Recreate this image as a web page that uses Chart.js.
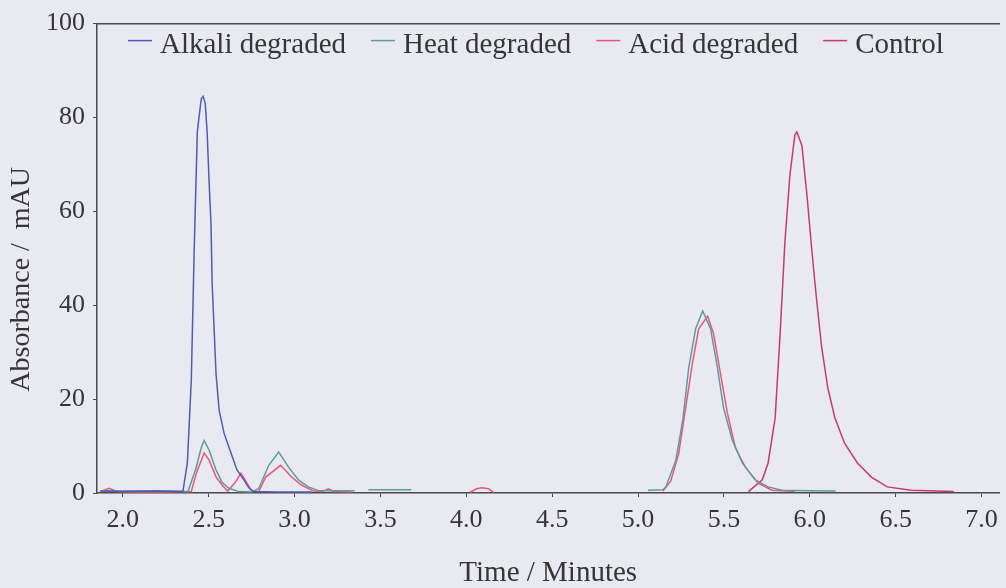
<!DOCTYPE html>
<html>
<head>
<meta charset="utf-8">
<title>Chromatogram</title>
<script src="https://cdn.jsdelivr.net/npm/chart.js@4.4.1/dist/chart.umd.min.js"></script>
<style>
    html, body { margin: 0; padding: 0; background: #e9e9f1; }
    #wrap { width: 1006px; height: 588px; }
</style>
</head>
<body>
<div id="wrap"><canvas id="chromatogramChart" width="1006" height="588"></canvas></div>
<script>
// retention time (min) / absorbance (mAU), null = gap in the trace
const alkaliTime  = [1.87, 2.0, 2.2, 2.35, 2.376, 2.399, 2.416, 2.434, 2.457, 2.468, 2.480, 2.491, 2.503, 2.514, 2.520, 2.543, 2.561, 2.590, 2.630, 2.665, 2.705, 2.734, 2.763, 2.9, 3.1];
const alkaliValue = [0.4, 0.3, 0.4, 0.3, 6.4, 24, 52, 77, 84, 84.5, 83, 77, 66, 57, 45, 25.4, 17.6, 12.7, 8.5, 4.9, 2.8, 1.1, 0.3, 0.2, 0.2];

const heatTime  = [1.87, 2.0, 2.2, 2.38, 2.428, 2.457, 2.474, 2.503, 2.543, 2.578, 2.618, 2.676, 2.75, 2.792, 2.850, 2.908, 2.965, 3.023, 3.081, 3.139, 3.35, 3.39, 3.43, 3.68, 4.5,
                   5.058, 5.145, 5.162, 5.220, 5.260, 5.295, 5.335, 5.376, 5.422, 5.462, 5.497, 5.549, 5.607, 5.682, 5.757, 5.838, 6.0, 6.15];
const heatValue = [0.5, 0.4, 0.5, 0.3, 5.5, 9.7, 11.2, 9.1, 4.9, 2.3, 1.0, 0.3, 0.2, 1.0, 5.9, 8.7, 5.5, 2.8, 1.3, 0.5, 0.5, null, 0.7, 0.7, null,
                   0.6, 0.7, 1.3, 7, 15.5, 26.7, 35, 38.8, 35, 26.7, 18.2, 11.2, 6.4, 2.8, 1.3, 0.6, 0.5, 0.4];

const acidTime  = [1.87, 1.92, 1.97, 2.05, 2.2, 2.399, 2.428, 2.474, 2.503, 2.543, 2.578, 2.61, 2.65, 2.688, 2.72, 2.751, 2.792, 2.832, 2.919, 2.983, 3.040, 3.110, 3.16, 3.197, 3.23, 3.33, 3.6,
                   4.02, 4.06, 4.09, 4.13, 4.16, 4.6,
                   5.145, 5.19, 5.237, 5.277, 5.318, 5.353, 5.405, 5.439, 5.480, 5.520, 5.566, 5.624, 5.699, 5.780, 5.913];
const acidValue = [0.3, 1.0, 0.3, 0.2, 0.2, 0.3, 4.2, 8.5, 7, 3.4, 1.7, 0.4, 2.0, 4.2, 2.3, 0.4, 0.3, 3.4, 5.9, 3.4, 1.7, 0.4, 0.3, 0.9, 0.3, 0.2, null,
                   0.1, 0.9, 1.1, 0.9, 0.1, null,
                   0.4, 2.5, 8.5, 18.2, 28, 35, 37.7, 34, 25.4, 17, 9.7, 5.5, 2.1, 0.6, 0.3];

const controlTime  = [5.642, 5.723, 5.757, 5.798, 5.827, 5.855, 5.884, 5.913, 5.925, 5.954, 5.983, 6.012, 6.040, 6.069, 6.104, 6.145, 6.202, 6.277, 6.358, 6.451, 6.590, 6.838];
const controlValue = [0.3, 2.8, 6.4, 16, 34, 53.6, 67.8, 76.3, 76.9, 74, 63.5, 51.5, 40.9, 31, 22.5, 16.1, 10.6, 6.4, 3.4, 1.3, 0.6, 0.3];

const seriesLabels = ['Alkali degraded', 'Heat degraded', 'Acid degraded', 'Control'];
const xTickValues = [2.0, 2.5, 3.0, 3.5, 4.0, 4.5, 5.0, 5.5, 6.0, 6.5, 7.0];
const yTickValues = [0, 20, 40, 60, 80, 100];

const textColor = '#363636';
const axisColor = '#4a4a4a';
const serif = "'Liberation Serif', 'Times New Roman', serif";

function toPoints(times, values) {
    return times.map((t, i) => ({x: t, y: values[i]}));
}

function makeDataset(label, times, values, color) {
    return {
        label: label,
        data: toPoints(times, values),
        borderColor: color,
        backgroundColor: color,
        borderWidth: 1.5,
        pointRadius: 0,
        tension: 0,
        fill: false,
        spanGaps: false
    };
}

// legend drawn inside the plot, top left, like the original
const insideLegend = {
    id: 'insideLegend',
    afterDraw(chart) {
        const ctx = chart.ctx;
        const area = chart.chartArea;
        let x = area.left + 31;
        const lineY = area.top + 17;
        const textY = area.top + 29;
        ctx.save();
        ctx.font = "29px " + serif;
        ctx.textBaseline = 'alphabetic';
        chart.data.datasets.forEach(ds => {
            ctx.strokeStyle = ds.borderColor;
            ctx.lineWidth = 1.5;
            ctx.beginPath();
            ctx.moveTo(x, lineY);
            ctx.lineTo(x + 24, lineY);
            ctx.stroke();
            x += 32;
            ctx.fillStyle = textColor;
            ctx.fillText(ds.label, x, textY);
            x += ctx.measureText(ds.label).width + 25;
        });
        ctx.restore();
    }
};

const background = {
    id: 'background',
    beforeDraw(chart) {
        const ctx = chart.ctx;
        ctx.save();
        ctx.fillStyle = '#e9e9f1';
        ctx.fillRect(0, 0, chart.width, chart.height);
        ctx.restore();
    }
};

let ctx = document.getElementById('chromatogramChart');

new Chart(ctx, {
    type: 'line',
    data: {
        datasets: [
            makeDataset(seriesLabels[0], alkaliTime, alkaliValue, '#5558b8'),
            makeDataset(seriesLabels[1], heatTime, heatValue, '#5f9a9e'),
            makeDataset(seriesLabels[2], acidTime, acidValue, '#e6587c'),
            makeDataset(seriesLabels[3], controlTime, controlValue, '#c93a6c')
        ]
    },
    options: {
        responsive: false,
        animation: false,
        layout: {
            padding: {top: 21, right: 0, bottom: 0, left: 0}
        },
        scales: {
            x: {
                type: 'linear',
                position: 'bottom',
                min: 1.85,
                max: 7.104,
                afterBuildTicks: axis => {
                    axis.ticks = xTickValues.map(v => ({value: v}));
                },
                afterFit: scale => {
                    scale.height = 95;
                },
                ticks: {
                    autoSkip: false,
                    maxRotation: 0,
                    padding: 8,
                    color: textColor,
                    font: {family: serif, size: 26},
                    callback: v => Number(v).toFixed(1)
                },
                grid: {
                    drawOnChartArea: false,
                    drawTicks: true,
                    tickLength: 4,
                    color: axisColor
                },
                border: {color: axisColor, width: 1.5},
                title: {
                    display: true,
                    text: 'Time / Minutes',
                    color: textColor,
                    font: {family: serif, size: 29, lineHeight: 1},
                    padding: {top: 0, bottom: 0}
                }
            },
            xTop: {
                type: 'linear',
                position: 'top',
                min: 1.85,
                max: 7.104,
                ticks: {display: false},
                grid: {display: false},
                border: {display: true, color: axisColor, width: 1.5},
                afterFit: scale => {
                    scale.height = 0;
                }
            },
            y: {
                min: 0,
                max: 100,
                afterBuildTicks: axis => {
                    axis.ticks = yTickValues.map(v => ({value: v}));
                },
                afterFit: scale => {
                    scale.width = 97;
                },
                ticks: {
                    padding: 8,
                    color: textColor,
                    font: {family: serif, size: 26}
                },
                grid: {
                    drawOnChartArea: false,
                    drawTicks: true,
                    tickLength: 4,
                    color: axisColor
                },
                border: {color: axisColor, width: 1.5},
                title: {
                    display: true,
                    // trailing spaces push the text down a little, as in the original
                    text: 'Absorbance /  mAU      ',
                    color: textColor,
                    font: {family: serif, size: 28, lineHeight: 1.2},
                    padding: {top: 5, bottom: 0}
                }
            }
        },
        plugins: {
            legend: {display: false},
            title: {display: false},
            tooltip: {enabled: false}
        }
    },
    plugins: [background, insideLegend]
});
</script>
</body>
</html>
